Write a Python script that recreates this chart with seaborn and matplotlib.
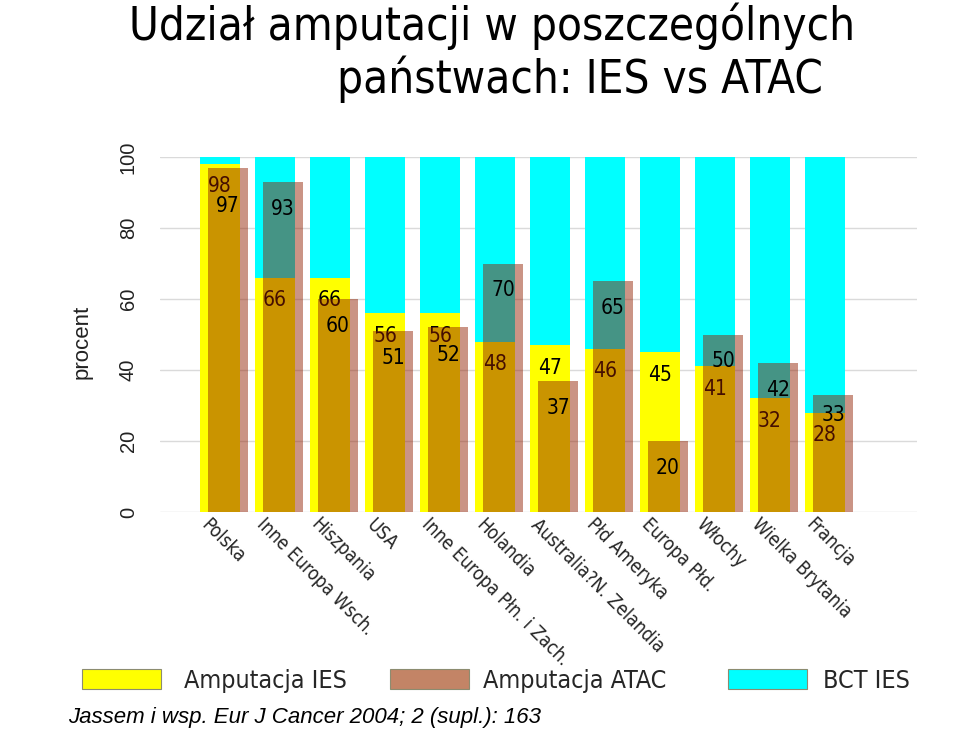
import numpy as np
import pandas as pd
import seaborn as sns
import matplotlib
matplotlib.use("Agg")
import matplotlib.pyplot as plt
from matplotlib.patches import Patch
from matplotlib.transforms import ScaledTranslation

# ---------------- data ----------------
categories = ["Polska", "Inne Europa Wsch.", "Hiszpania", "USA",
              "Inne Europa Płn. i Zach.", "Holandia", "Australia?N. Zelandia",
              "Płd Ameryka", "Europa Płd.", "Włochy", "Wielka Brytania", "Francja"]
amputacja_ies = [98, 66, 66, 56, 56, 48, 47, 46, 45, 41, 32, 28]
bct_ies = [2, 34, 34, 44, 44, 52, 53, 54, 55, 59, 68, 72]
amputacja_atac = [97, 93, 60, 51, 52, 70, 37, 65, 20, 50, 42, 33]
y_ticks = [0, 20, 40, 60, 80, 100]

title_1 = "Udział amputacji w poszczególnych"
title_2 = "państwach: IES vs ATAC"
citation = "Jassem i wsp. Eur J Cancer 2004; 2 (supl.): 163"

df = pd.DataFrame({"kraj": categories,
                   "ies": amputacja_ies,
                   "bct": bct_ies,
                   "atac": amputacja_atac})
df["ies_bct"] = df["ies"] + df["bct"]

# ---------------- style ----------------
sns.set_theme(style="white")
plt.rcParams["font.family"] = ["DejaVu Sans"]

YELLOW = "#FFFF00"
CYAN = "#00FFFF"
ATAC_OVERLAY = (146 / 255, 31 / 255, 0)
ATAC_LEGEND = "#C38466"

W, H = 960, 730
fig = plt.figure(figsize=(W / 100, H / 100), dpi=100)
ax = fig.add_axes([160 / W, 1 - 512 / H, (917 - 160) / W, (512 - 157) / H])

bw = 40 / 55
off = 8 / 55

sns.barplot(data=df, x="kraj", y="ies_bct", color=CYAN, saturation=1,
            width=bw, errorbar=None, linewidth=0, ax=ax, zorder=2)
sns.barplot(data=df, x="kraj", y="ies", color=YELLOW, saturation=1,
            width=bw, errorbar=None, linewidth=0, ax=ax, zorder=2.2)
sns.barplot(data=df, x="kraj", y="atac", color=ATAC_OVERLAY, saturation=1,
            width=bw, errorbar=None, linewidth=0, alpha=0.48, ax=ax, zorder=3)
for p in ax.containers[-1]:
    p.set_x(p.get_x() + off)

# value labels (IES labels sit beneath the translucent ATAC bars)
min_gap = 5.5
for i, (vi, va_) in enumerate(zip(df["ies"], df["atac"])):
    yi = vi - 6.3
    ya = va_ - 7.6
    d = ya - yi
    if abs(d) < min_gap:
        ya = yi + (min_gap if d > 0 else -min_gap)
    ax.text(i, yi, f"{vi}", ha="center", va="center", fontsize=15,
            fontstretch="condensed", color="black", zorder=2.5)
    ax.text(i + off, ya, f"{va_}", ha="center", va="center", fontsize=15,
            fontstretch="condensed", color="black", zorder=4)

ax.set_xlim(-60 / 55, (917 - 220) / 55)
ax.set_ylim(0, 100)
ax.set_yticks(y_ticks)
ax.set_yticklabels([str(t) for t in y_ticks], rotation=90, va="center",
                   fontsize=14.5, family="Liberation Sans", color="#222222")
ax.tick_params(axis="y", length=0, pad=16)
ax.grid(axis="y", color="#DADADA", linewidth=1)
ax.grid(axis="x", visible=False)
ax.set_axisbelow(True)
for s in ax.spines.values():
    s.set_visible(False)
ax.set_xlabel("")
ax.set_ylabel("")

ax.set_xticks(range(len(categories)))
ax.set_xticklabels(categories, rotation=-45, ha="left", va="top",
                   rotation_mode="anchor", fontsize=13.5, fontstretch="condensed")
ax.tick_params(axis="x", length=0, pad=0)
shift = ScaledTranslation(-9 / 100, -3 / 100, fig.dpi_scale_trans)
for lbl in ax.get_xticklabels():
    lbl.set_transform(lbl.get_transform() + shift)

fig.text(82 / W, 1 - 342 / H, "procent", rotation=90, ha="center", va="center",
         fontsize=16, family="Liberation Sans", color="#222222")

# titles
fig.text(492 / W, 1 - 40 / H, title_1, ha="center", va="baseline",
         fontsize=32.8, fontstretch="condensed", color="black")
fig.text(580 / W, 1 - 93 / H, title_2, ha="center", va="baseline",
         fontsize=32.8, fontstretch="condensed", color="black")

# legend (three separate entries)
fs = 18
px_per_em = fs * 100 / 72
entries = [("Amputacja IES", YELLOW, 82, 23),
           ("Amputacja ATAC", ATAC_LEGEND, 390, 14),
           ("BCT IES", CYAN, 728, 16)]
for label, col, xpx, gap in entries:
    h = Patch(facecolor=col, edgecolor="#8C8C70", linewidth=0.8)
    fig.legend([h], [label], loc="center left",
               bbox_to_anchor=(xpx / W, 1 - 681 / H),
               frameon=False, handlelength=79 / px_per_em,
               handleheight=21 / px_per_em,
               handletextpad=gap / px_per_em, borderpad=0, borderaxespad=0,
               prop={"size": fs, "stretch": "condensed"})

fig.text(68 / W, 1 - 718 / H, citation, ha="left", va="center",
         fontsize=16, style="italic", family="Liberation Sans", color="black")

fig.savefig("out.png", dpi=100)
